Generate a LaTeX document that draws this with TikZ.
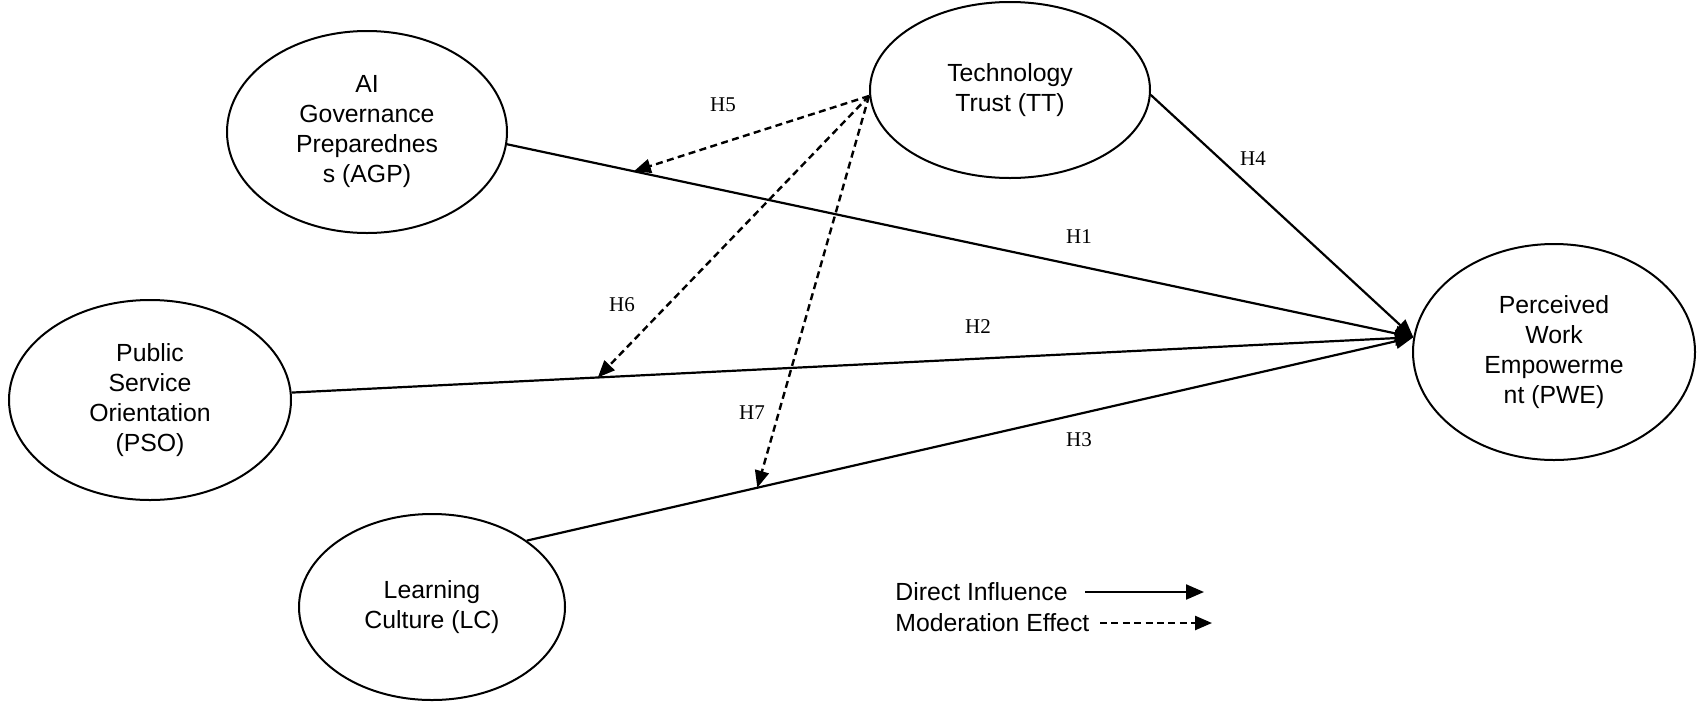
\documentclass[tikz,border=0pt]{standalone}
\usepackage{fontspec}
\setmainfont{Liberation Sans}
\newfontfamily\hfont{Liberation Serif}
\usetikzlibrary{arrows.meta,shapes.geometric,calc}
\begin{document}
\begin{tikzpicture}[x=0.5pt,y=-0.5pt,
  construct/.style={draw,ellipse,line width=1pt,inner sep=0pt,align=center,
    font=\fontsize{12.4}{15}\selectfont},
  direct/.style={line width=1.1pt,-{Triangle[length=9pt,width=7.5pt]}},
  moder/.style={line width=1.2pt,dash pattern=on 3.5pt off 2.2pt,-{Triangle[length=8.5pt,width=7pt]}},
  hyp/.style={font=\hfont\fontsize{10.5}{12}\selectfont,inner sep=0pt},
  legtext/.style={anchor=west,inner sep=0pt,font=\fontsize{12.4}{15}\selectfont}]
\useasboundingbox (0,0) rectangle (1701,718);
\fill[white] (0,0) rectangle (1701,718);
% constructs
\node[construct,minimum width=140pt,minimum height=101pt] (agp) at (367,132) {AI\\Governance\\Preparednes\\s (AGP)};
\node[construct,minimum width=140pt,minimum height=88pt] (tt) at (1010,90) {Technology\\Trust (TT)};
\node[construct,minimum width=141pt,minimum height=108pt] (pwe) at (1554,352) {Perceived\\Work\\Empowerme\\nt (PWE)};
\node[construct,minimum width=141pt,minimum height=100pt] (pso) at (150,400) {Public\\Service\\Orientation\\(PSO)};
\node[construct,minimum width=133pt,minimum height=93pt] (lc) at (432,607) {Learning\\Culture (LC)};
% direct effects
\coordinate (pin) at (pwe.174);
\draw[direct] (agp.-5) -- coordinate[pos=0.14] (h5t) (pin);
\draw[direct] (pso.3) -- coordinate[pos=0.273] (h6t) (pin);
\draw[direct] (lc.35.6) -- coordinate[pos=0.26] (h7t) (pin);
\draw[direct] (tt.-2.5) -- (pin);
% moderation effects
\coordinate (ttm) at ([yshift=-3pt]tt.west);
\draw[moder] (ttm) -- (h5t);
\draw[moder] (ttm) -- (h6t);
\draw[moder] (ttm) -- (h7t);
% labels
\node[hyp] (l1) at (1079,237) {H1};
\node[hyp] (l2) at (978,327) {H2};
\node[hyp] (l3) at (1079,440) {H3};
\node[hyp] (l4) at (1253,159) {H4};
\node[hyp] (l5) at (723,105) {H5};
\node[hyp] (l6) at (622,305) {H6};
\node[hyp] (l7) at (752,413) {H7};
% legend
\node[legtext] (ldir) at (895,592) {Direct Influence};
\node[legtext] (lmod) at (895,623) {Moderation Effect};
\coordinate (d1) at (1085,592);
\coordinate (d2) at (1204,592);
\coordinate (m1) at (1100,623);
\coordinate (m2) at (1212,623);
\draw[direct] (d1) -- (d2);
\draw[moder] (m1) -- (m2);
\end{tikzpicture}
\end{document}
